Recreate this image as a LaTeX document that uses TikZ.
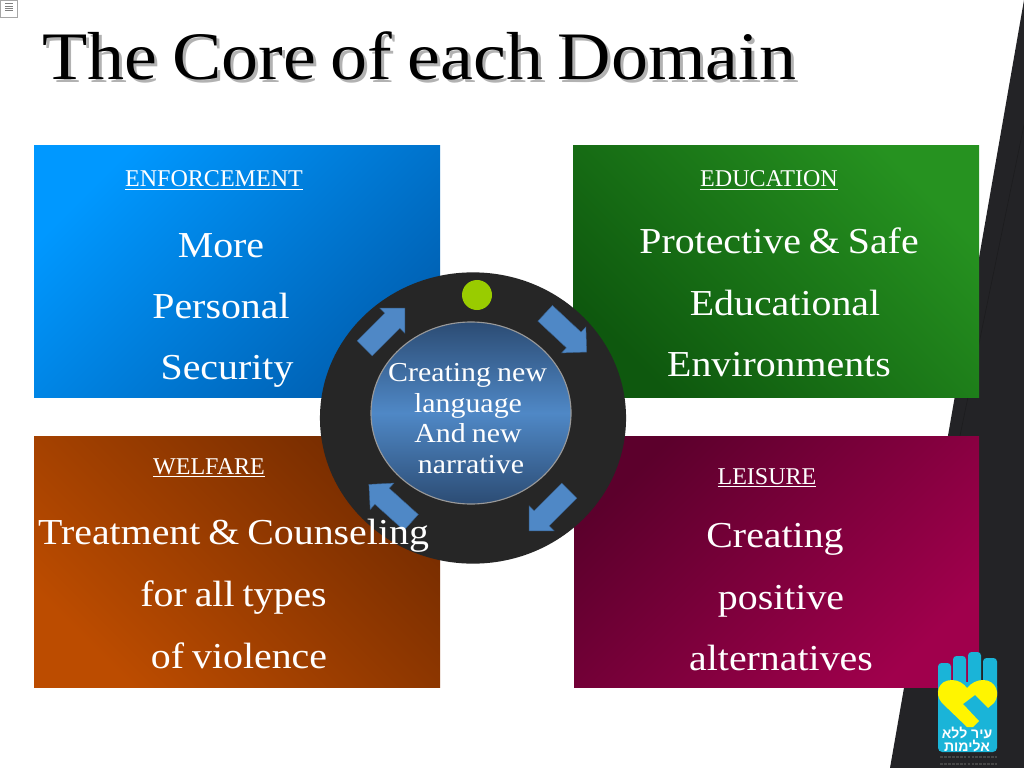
\documentclass[tikz,border=0pt]{standalone}
\usepackage{fontspec}
\setmainfont{Liberation Serif}
\newfontfamily\widefont[FakeStretch=1.09,WordSpace=0.8]{Liberation Serif}
\newfontfamily\hebfont[Script=Hebrew]{Liberation Sans}
\TeXXeTstate=1
\usetikzlibrary{shapes.geometric,shapes.arrows}
\definecolor{wedge}{RGB}{35,35,38}
\definecolor{ring}{RGB}{38,38,38}
\definecolor{steel}{RGB}{79,136,198}
\definecolor{deep}{RGB}{44,76,116}
\definecolor{lime}{RGB}{153,204,0}
\definecolor{handblue}{RGB}{26,180,216}
\definecolor{heart}{RGB}{255,245,0}
\definecolor{bluea}{RGB}{0,152,255}
\definecolor{blueb}{RGB}{0,96,178}
\definecolor{greena}{RGB}{14,88,14}
\definecolor{greenb}{RGB}{38,146,32}
\definecolor{rusta}{RGB}{188,76,0}
\definecolor{rustb}{RGB}{118,44,0}
\definecolor{plum}{RGB}{92,0,44}
\definecolor{plumb}{RGB}{160,0,76}
\tikzset{
  panel/.style 2 args={left color=#1,right color=#2},
  titletext/.style={font=\widefont\fontsize{48.3}{60}\selectfont,inner sep=0pt,anchor=base west},
  head/.style={font=\fontsize{17.1}{20}\selectfont,text=white,inner sep=0pt,anchor=base},
  body/.style={font=\widefont\fontsize{26}{30}\selectfont,text=white,inner sep=0pt,anchor=base},
  core/.style={font=\widefont\fontsize{19.5}{22}\selectfont,text=white,inner sep=0pt,anchor=base},
  turn/.style={single arrow,fill=steel,draw=steel!70!black,line width=0.3pt,
    inner xsep=0pt,inner ysep=0.2625cm,minimum height=1.42cm,
    single arrow head extend=0.175cm,single arrow head indent=0pt},
  finger/.style={fill=handblue,rounded corners=2.5pt},
}
\begin{document}
\begin{tikzpicture}[x=0.025cm,y=-0.025cm]
  \useasboundingbox (0,0) rectangle (1024,768);
  \fill[white] (0,0) rectangle (1024,768);
  % corner thumbnail
  \draw[gray!70,line width=0.3pt] (0,0) rectangle (17,17);
  \foreach \y in {3,6,8,10} \draw[gray,line width=0.2pt] (5,\y) -- (13,\y);
  % dark wedge
  \fill[wedge] (1024,0) -- (890,768) -- (1024,768) -- cycle;
  \draw[wedge!80!black,line width=0.4pt] (1024,125) -- (955,460);
  % title
  \node[titletext,text=black!30] (shade) at (45,82.5) {The Core of each Domain};
  \node[titletext] (title) at (42,80) {The Core of each Domain};
  % panels
  \path[panel={bluea}{blueb},shading angle=45] (34,146) rectangle (440,397);
  \path[panel={greena}{greenb},shading angle=135] (573,146) rectangle (979,397);
  \path[panel={rusta}{rustb},shading angle=135] (34,436) rectangle (440,687);
  \path[panel={plum}{plumb},shading angle=45] (574,436) rectangle (979,687);
  % centre
  \node[ellipse,fill=ring,minimum width=7.65cm,minimum height=7.28cm,inner sep=0pt] (hub) at (473,418) {};
  \node[ellipse,draw=gray!80,thick,minimum width=5cm,minimum height=4.55cm,inner sep=0pt,
    top color=deep,bottom color=deep,middle color=steel] (inner) at (471,413) {};
  \node[circle,fill=lime,minimum size=0.75cm,inner sep=0pt] (dot) at (477,295) {};
  \node[turn,rotate=45] (arrowne) at (381,332) {};
  \node[turn,rotate=-43] (arrowse) at (562,329) {};
  \node[turn,rotate=-135] (arrowsw) at (553,507) {};
  \node[turn,rotate=138] (arrownw) at (394,507) {};
  \node[core] (corea) at (467.5,381) {Creating new};
  \node[core] (coreb) at (468,412) {language};
  \node[core] (corec) at (468,442) {And new};
  \node[core] (cored) at (471,473) {narrative};
  % panel texts
  \node[head] (enfhead) at (214,187) {\underline{ENFORCEMENT}};
  \node[body] (enfa) at (221,257) {More};
  \node[body] (enfb) at (221,318) {Personal};
  \node[body] (enfc) at (227,379) {Security};
  \node[head] (eduhead) at (769,187) {\underline{EDUCATION}};
  \node[body] (edua) at (779,253) {Protective \& Safe};
  \node[body] (edub) at (785,315) {Educational};
  \node[body] (educ) at (779,376) {Environments};
  \node[head] (welhead) at (209,474) {\underline{WELFARE}};
  \node[body] (wela) at (233.5,544) {Treatment \& Counseling};
  \node[body] (welb) at (233.5,606) {for all types};
  \node[body] (welc) at (239,668) {of violence};
  \node[head] (leihead) at (767,484) {\underline{LEISURE}};
  \node[body] (leia) at (775,547) {Creating};
  \node[body] (leib) at (781,609) {positive};
  \node[body] (leic) at (781,670) {alternatives};
  % logo
  \foreach \x/\t/\w in {938/663/13,953/656/13,968/652/13,983/658/14}
    \fill[finger] (\x,\t) rectangle ++(\w,40);
  \fill[handblue,rounded corners=3pt] (938,682) rectangle (997,752);
  \fill[heart] (967,727) -- (942,703) .. controls (934,694) and (938,680) .. (952,680)
    .. controls (959,680) and (964,684) .. (967,688) .. controls (971,683) and (977,680) .. (983,680)
    .. controls (996,680) and (1001,694) .. (994,703) -- (988,708) -- (975,695) -- (963,704) -- (979,721) -- (973,727) -- cycle;
  \node[font=\hebfont\bfseries\fontsize{10}{7.5}\selectfont,text=white,align=center,inner sep=0pt] (city) at (967,739.5)
    {\beginR עיר ללא\endR\\\beginR אלימות\endR};
  % tiny lines under the logo
  \foreach \y in {757,764} \draw[gray!55!black,line width=0.9pt,dash pattern=on 2pt off 0.8pt] (940,\y) -- (997,\y);
\end{tikzpicture}
\end{document}
